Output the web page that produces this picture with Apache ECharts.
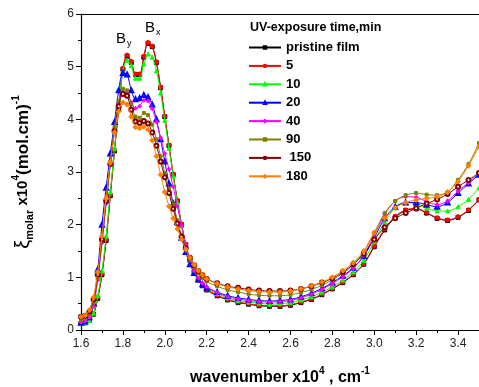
<!DOCTYPE html>
<html><head><meta charset="utf-8">
<script src="https://cdn.jsdelivr.net/npm/echarts@6/dist/echarts.min.js"></script>
<style>html,body{margin:0;padding:0;background:#fff}#c{width:479px;height:387px}</style>
</head><body><div id="c"></div>
<script>
const wavenumber = [1.60,1.62,1.64,1.66,1.68,1.70,1.72,1.74,1.76,1.78,1.80,1.82,1.84,1.86,1.88,1.90,1.92,1.94,1.96,1.98,2.00,2.02,2.04,2.06,2.08,2.10,2.12,2.14,2.16,2.18,2.20,2.25,2.3,2.35,2.4,2.45,2.5,2.55,2.6,2.65,2.7,2.75,2.8,2.85,2.9,2.95,3.0,3.05,3.1,3.15,3.2,3.25,3.3,3.35,3.4,3.45,3.5];
const seriesNames = ['pristine film','5','10','20','40','90',' 150','180'];
const pristine = [0.13,0.14,0.18,0.30,0.60,1.05,1.70,2.55,3.40,4.20,4.95,5.20,5.08,4.85,4.85,5.18,5.44,5.38,5.08,4.60,4.05,3.50,2.95,2.45,2.00,1.62,1.32,1.10,0.95,0.84,0.76,0.65,0.57,0.52,0.49,0.46,0.45,0.45,0.47,0.52,0.58,0.67,0.78,0.90,1.05,1.25,1.58,1.90,2.14,2.27,2.30,2.22,2.12,2.08,2.14,2.27,2.47];
const t5 = [0.13,0.14,0.19,0.31,0.62,1.07,1.72,2.57,3.42,4.22,4.97,5.22,5.10,4.86,4.86,5.20,5.46,5.39,5.09,4.61,4.06,3.51,2.96,2.46,2.01,1.63,1.33,1.11,0.96,0.85,0.77,0.66,0.58,0.53,0.50,0.47,0.46,0.46,0.48,0.53,0.59,0.68,0.79,0.91,1.06,1.26,1.60,1.92,2.16,2.28,2.31,2.23,2.13,2.09,2.15,2.28,2.48];
const t10 = [0.12,0.13,0.18,0.32,0.65,1.12,1.78,2.62,3.45,4.25,4.92,5.12,5.02,4.78,4.78,5.05,5.24,5.18,4.92,4.50,3.98,3.45,2.92,2.42,1.98,1.60,1.32,1.11,0.97,0.87,0.79,0.69,0.61,0.56,0.53,0.51,0.49,0.50,0.52,0.57,0.63,0.72,0.82,0.95,1.10,1.32,1.68,2.05,2.32,2.42,2.40,2.32,2.26,2.26,2.34,2.48,2.70];
const t20 = [0.14,0.16,0.24,0.50,1.15,2.00,2.70,3.35,3.95,4.55,4.88,4.85,4.55,4.38,4.40,4.46,4.42,4.28,4.00,3.62,3.20,2.78,2.40,2.05,1.75,1.48,1.25,1.08,0.96,0.87,0.80,0.72,0.65,0.61,0.58,0.56,0.55,0.56,0.58,0.63,0.70,0.79,0.90,1.03,1.18,1.40,1.75,2.12,2.34,2.42,2.42,2.38,2.34,2.42,2.60,2.78,2.95];
const t40 = [0.15,0.17,0.24,0.45,0.95,1.65,2.40,3.15,3.80,4.30,4.52,4.50,4.32,4.21,4.25,4.36,4.35,4.20,3.95,3.65,3.35,3.05,2.72,2.35,1.98,1.62,1.33,1.13,0.99,0.89,0.82,0.71,0.63,0.59,0.56,0.54,0.53,0.54,0.56,0.61,0.68,0.77,0.88,1.01,1.17,1.42,1.80,2.20,2.45,2.53,2.52,2.44,2.38,2.45,2.64,2.80,2.98];
const t90 = [0.20,0.22,0.30,0.52,1.00,1.68,2.45,3.20,3.85,4.35,4.58,4.55,4.28,4.05,4.03,4.12,4.08,3.90,3.62,3.30,2.98,2.68,2.38,2.08,1.80,1.55,1.35,1.20,1.08,0.99,0.92,0.83,0.76,0.72,0.68,0.66,0.65,0.65,0.67,0.71,0.77,0.85,0.95,1.08,1.24,1.48,1.85,2.22,2.45,2.56,2.60,2.57,2.56,2.62,2.85,3.15,3.55];
const t150 = [0.25,0.27,0.35,0.58,1.05,1.72,2.45,3.15,3.78,4.25,4.48,4.45,4.18,3.96,3.93,3.97,3.92,3.75,3.50,3.20,2.90,2.60,2.30,2.02,1.77,1.55,1.37,1.23,1.12,1.04,0.97,0.89,0.83,0.80,0.77,0.75,0.74,0.74,0.75,0.78,0.83,0.90,0.98,1.10,1.25,1.45,1.72,1.95,2.12,2.22,2.31,2.40,2.48,2.58,2.72,2.85,2.98];
const t180 = [0.25,0.28,0.38,0.62,1.10,1.78,2.50,3.18,3.75,4.15,4.32,4.28,4.05,3.85,3.83,3.86,3.80,3.60,3.30,2.95,2.62,2.35,2.12,1.92,1.72,1.53,1.37,1.24,1.13,1.04,0.97,0.88,0.82,0.78,0.75,0.73,0.72,0.72,0.74,0.78,0.84,0.91,1.00,1.13,1.28,1.50,1.85,2.12,2.32,2.42,2.47,2.50,2.53,2.62,2.82,3.12,3.48];
const xTicks = [1.6,1.8,2.0,2.2,2.4,2.6,2.8,3.0,3.2,3.4];
const yTicks = [0,1,2,3,4,5,6];

const allValues = [pristine,t5,t10,t20,t40,t90,t150,t180];
const colors = ['#000000','#ff0000','#00ff00','#0000ff','#ff00ff','#808000','#800000','#ff8000'];
const symbols = ['rect','circle','triangle','emptyTriangle','diamond','rect','emptyCircle','diamond'];
const symSizes = [4,4,4,4,4,3,4,5];

const chart = echarts.init(document.getElementById('c'));
const font = 'Liberation Sans, Arial, sans-serif';
const series = allValues.map((vals,i)=>({
  name: seriesNames[i], type:'line', smooth:0.3,
  data: wavenumber.map((x,j)=>[x,vals[j]]),
  symbol: symbols[i], symbolSize: symSizes[i], showSymbol:true,
  lineStyle:{color:colors[i], width:1},
  itemStyle:{color:colors[i], borderColor: colors[i], borderWidth: 1},
  emphasis:{disabled:true}, z: 2+i
}));

chart.setOption({
  animation:false,
  grid:{left:81, top:14, right:0, bottom:57, containLabel:false, outerBoundsMode:'none'},
  xAxis:[{
    type:'value', min:1.6, max:3.5, interval:0.2,
    axisLine:{lineStyle:{color:'#000', width:1.2}},
    axisTick:{show:true, inside:false, length:5, lineStyle:{color:'#000'}},
    minorTick:{show:true, splitNumber:2, length:3, lineStyle:{color:'#000'}},
    splitLine:{show:false},
    axisLabel:{color:'#222', fontSize:12, fontFamily:font, margin:8, showMaxLabel:false,
      formatter: v => xTicks.some(t=>Math.abs(t-v)<1e-6) ? v.toFixed(1) : ''},
    name:'{t|wavenumber x10}{sup|4}{t| , cm}{sup|-1}', nameLocation:'middle', nameGap:36,
    nameTextStyle:{ rich:{
      t:{fontSize:16, fontWeight:'bold', fontFamily:font, color:'#000', lineHeight:20, verticalAlign:'bottom'},
      sup:{fontSize:10, fontWeight:'bold', fontFamily:font, color:'#000', lineHeight:20, verticalAlign:'top'}
    }}
  },{
    type:'value', position:'top', min:1.6, max:3.5,
    axisLine:{show:true, lineStyle:{color:'#000', width:1.2}},
    axisTick:{show:false}, axisLabel:{show:false}, splitLine:{show:false}
  }],
  yAxis:{
    type:'value', min:0, max:6, interval:1,
    axisLine:{show:true, lineStyle:{color:'#000', width:1.2}},
    axisTick:{show:true, inside:false, length:5, lineStyle:{color:'#000'}},
    minorTick:{show:true, splitNumber:2, length:3, lineStyle:{color:'#000'}},
    splitLine:{show:false},
    axisLabel:{color:'#222', fontSize:12, fontFamily:font, margin:7,
      formatter: v => yTicks.includes(v) ? String(v) : ''},
    name:'{xi|ξ}{sub|molar}{t| x10}{sup|4}{p|(mol.cm)}{sup|-1}', nameLocation:'middle', nameRotate:90, nameGap:46,
    nameTextStyle:{ rich:{
      xi:{fontSize:20, fontFamily:font, color:'#000', lineHeight:24, verticalAlign:'middle'},
      sub:{fontSize:11, fontWeight:'bold', fontFamily:font, color:'#000', lineHeight:24, verticalAlign:'bottom'},
      t:{fontSize:15, fontWeight:'bold', fontFamily:font, color:'#000', lineHeight:24, verticalAlign:'middle'},
      p:{fontSize:17, fontWeight:'bold', fontFamily:font, color:'#000', lineHeight:24, verticalAlign:'middle'},
      sup:{fontSize:10, fontWeight:'bold', fontFamily:font, color:'#000', lineHeight:24, verticalAlign:'top'}
    }}
  },
  legend:{
    orient:'vertical', left:248, top:41, padding:0, itemWidth:32, itemHeight:3, itemGap:5.4,
    data: seriesNames,
    textStyle:{fontSize:13, fontWeight:'bold', fontFamily:font, color:'#000'},
    selectedMode:false
  },
  graphic:[
    {type:'text', left:250, top:21, style:{text:'UV-exposure time,min', font:'bold 12.5px '+font, fill:'#000'}},
    {type:'text', left:116, top:27, style:{text:'{b|B}{s|y}', rich:{b:{fontSize:15,fontFamily:font,color:'#000',lineHeight:18},s:{fontSize:9,fontFamily:font,color:'#000',lineHeight:18,verticalAlign:'bottom',padding:[12,0,0,1]}}}},
    {type:'text', left:145, top:16, style:{text:'{b|B}{s|x}', rich:{b:{fontSize:15,fontFamily:font,color:'#000',lineHeight:18},s:{fontSize:9,fontFamily:font,color:'#000',lineHeight:18,verticalAlign:'bottom',padding:[12,0,0,1]}}}}
  ],
  series: series
});
</script></body></html>
